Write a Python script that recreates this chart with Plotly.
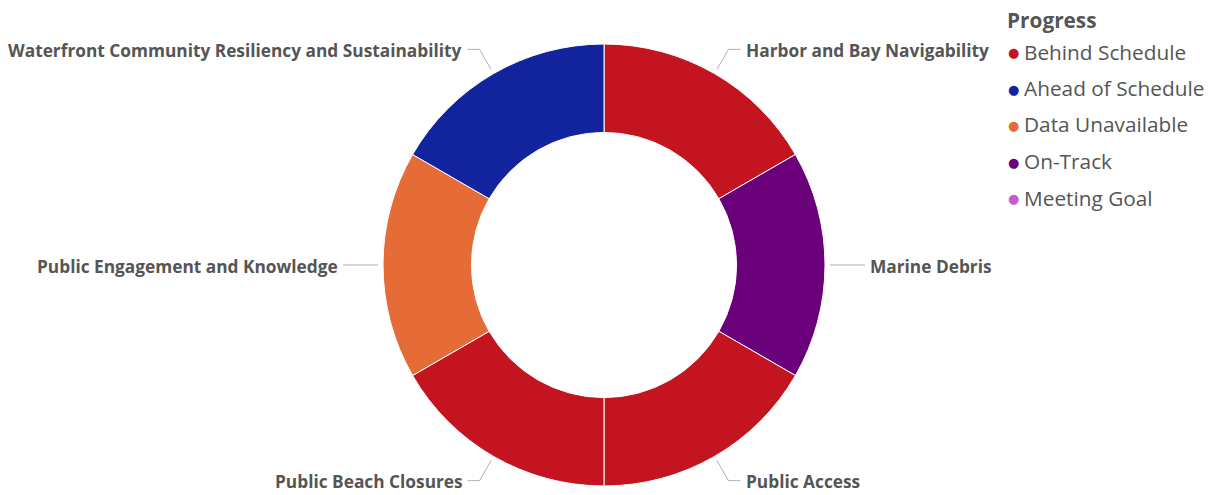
import math
import plotly.graph_objects as go

# Focus areas and their current progress status
categories = [
    "Harbor and Bay Navigability",
    "Marine Debris",
    "Public Access",
    "Public Beach Closures",
    "Public Engagement and Knowledge",
    "Waterfront Community Resiliency and Sustainability",
]
status = [
    "Behind Schedule",
    "On-Track",
    "Behind Schedule",
    "Behind Schedule",
    "Data Unavailable",
    "Ahead of Schedule",
]
values = [1, 1, 1, 1, 1, 1]

# Legend categories (in display order) and their colours
legend_labels = [
    "Behind Schedule",
    "Ahead of Schedule",
    "Data Unavailable",
    "On-Track",
    "Meeting Goal",
]
legend_colors = ["#C3141F", "#12239E", "#E66C37", "#6B007B", "#C45CCF"]

W, H = 1214, 495
CX, CY, R = 604, 265, 221          # donut centre and outer radius (px)
HOLE = 0.60
TEXT = "#555555"

color_of = dict(zip(legend_labels, legend_colors))


def px(x):
    return x / W


def py(y):
    return 1 - y / H


fig = go.Figure()
fig.add_trace(go.Pie(
    labels=categories,
    values=values,
    hole=HOLE,
    sort=False,
    direction="clockwise",
    rotation=0,
    marker=dict(colors=[color_of[s] for s in status],
                line=dict(color="white", width=1)),
    textinfo="none",
    hoverinfo="label",
    showlegend=False,
    domain=dict(x=[px(CX - R), px(CX + R)], y=[py(CY + R), py(CY - R)]),
))

annotations = []
shapes = []

# Outside labels with leader lines, placed at each slice's mid angle
total = sum(values)
acc = 0.0
r1, r2, hseg, gap = R + 5, R + 28, 12, 3
for cat, v in zip(categories, values):
    mid = (acc + v / 2) / total * 2 * math.pi
    acc += v
    s, c = math.sin(mid), math.cos(mid)
    x1, y1 = CX + r1 * s, CY - r1 * c
    x2, y2 = CX + r2 * s, CY - r2 * c
    side = 1 if s >= 0 else -1
    x3 = x2 + side * hseg
    shapes.append(dict(type="path", xref="paper", yref="paper",
                       path=f"M {px(x1)} {py(y1)} L {px(x2)} {py(y2)} L {px(x3)} {py(y2)}",
                       line=dict(color="#B0B0B0", width=1)))
    annotations.append(dict(
        x=px(x3 + side * gap), y=py(y2 + 1), xref="paper", yref="paper",
        text=f"<b>{cat}</b>", showarrow=False,
        xanchor="left" if side > 0 else "right", yanchor="middle",
        font=dict(family="Open Sans", size=17.3, color=TEXT),
    ))

# Legend: title plus one coloured dot and label per status
LX, LY0, LSTEP = 1006, 20, 36.5
annotations.append(dict(
    x=px(LX - 1), y=py(LY0), xref="paper", yref="paper",
    text="<b>Progress</b>", showarrow=False, xanchor="left", yanchor="middle",
    font=dict(family="Open Sans", size=20.8, color=TEXT),
))
for i, (lab, col) in enumerate(zip(legend_labels, legend_colors)):
    yy = LY0 + LSTEP * (i + 1) - 5
    annotations.append(dict(
        x=px(LX + 7), y=py(yy + 1), xref="paper", yref="paper",
        text="●", showarrow=False, xanchor="center", yanchor="middle",
        font=dict(family="DejaVu Sans", size=13, color=col),
    ))
    annotations.append(dict(
        x=px(LX + 16), y=py(yy), xref="paper", yref="paper",
        text=lab, showarrow=False, xanchor="left", yanchor="middle",
        font=dict(family="Open Sans", size=20.8, color=TEXT),
    ))

fig.update_layout(
    width=W, height=H,
    margin=dict(l=0, r=0, t=0, b=0),
    paper_bgcolor="white",
    plot_bgcolor="white",
    annotations=annotations,
    shapes=shapes,
)

fig.write_html("out.html")
